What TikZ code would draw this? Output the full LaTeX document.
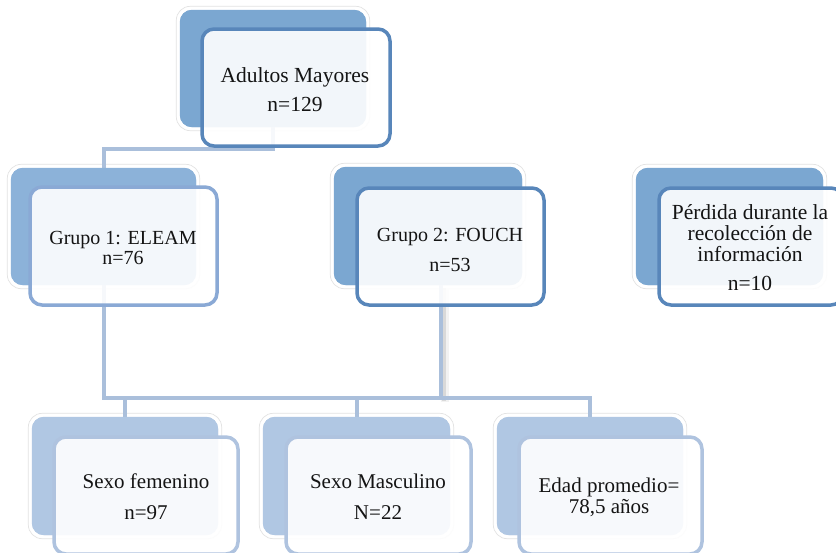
\documentclass[tikz,border=0pt]{standalone}
\usepackage{fontspec}
\setmainfont{Liberation Serif}
\usetikzlibrary{calc}
\definecolor{topBack}{HTML}{7BA7D1}
\definecolor{topBorder}{HTML}{5886BA}
\definecolor{gOneBack}{HTML}{8CB2D9}
\definecolor{gOneBorder}{HTML}{8AA9D5}
\definecolor{botBack}{HTML}{B0C7E3}
\definecolor{botBorder}{HTML}{AFC3DF}
\definecolor{connCol}{HTML}{AABFDB}
\definecolor{txtCol}{HTML}{141414}
\tikzset{
  backbox/.style={rounded corners=12pt, inner sep=0pt, draw=none},
  frontbox/.style={rounded corners=12pt, inner sep=0pt, line width=3.5pt, fill=white, fill opacity=0.9},
  glowline/.style={draw=black!11, line width=0.7pt, rounded corners=14pt},
  conn/.style={draw=connCol, line width=4pt, line join=miter},
  connshadow/.style={draw=black, line width=4pt, opacity=0.10},
  label/.style={align=center, text=txtCol, inner sep=0pt}
}
\begin{document}
\begin{tikzpicture}[x=1pt,y=-1pt]
\useasboundingbox (0,0) rectangle (836,552);
\clip (0,0) rectangle (836,552);
\fill[white] (0,0) rectangle (836,552);

% back boxes
\path
  (273,68.5)    node[backbox, fill=topBack,  minimum width=186, minimum height=117] (tb)  {}
  (103.5,226.5) node[backbox, fill=gOneBack, minimum width=185, minimum height=117] (g1b) {}
  (428,226)     node[backbox, fill=topBack,  minimum width=188, minimum height=118] (g2b) {}
  (729.5,226.5) node[backbox, fill=topBack,  minimum width=187, minimum height=117] (pb)  {}
  (125,476)     node[backbox, fill=botBack,  minimum width=186, minimum height=118] (b1b) {}
  (356.5,476)   node[backbox, fill=botBack,  minimum width=187, minimum height=118] (b2b) {}
  (590,476)     node[backbox, fill=botBack,  minimum width=186, minimum height=118] (b3b) {};

% glow outlines around back boxes
\foreach \n in {tb,g1b,g2b,pb,b1b,b2b,b3b}{
  \draw[glowline] ([shift={(-3.5,-3.5)}]\n.north west) rectangle ([shift={(3.5,3.5)}]\n.south east);
}

% connectors
\coordinate (hL) at (103.5,398);
\coordinate (g2o) at (441,285);
\draw[conn] (tb.south) -- ++(0,22) -| (g1b.north);
\draw[connshadow] ([shift={(3,3)}]g2o) -- ([shift={(3,3)}]g2o |- hL);
\draw[connshadow, line width=8pt, opacity=0.05] ([shift={(4,4)}]g2o) -- ([shift={(4,4)}]g2o |- hL);
\draw[conn] (g1b.south) -- (g1b.south |- hL) -- (b3b.north |- hL) -- (b3b.north);
\draw[conn] (b1b.north |- hL) -- (b1b.north);
\draw[conn] (b2b.north |- hL) -- (b2b.north);
\draw[conn] (g2o) -- (g2o |- hL);

% redraw back boxes over connector ends
\foreach \n/\c in {tb/topBack,g1b/gOneBack,g2b/topBack,pb/topBack,b1b/botBack,b2b/botBack,b3b/botBack}{
  \fill[\c, rounded corners=12pt] (\n.north west) rectangle (\n.south east);
}

% front boxes
\node[frontbox, draw=topBorder,  minimum width=188, minimum height=117] (tf)  at (296,87.5) {};
\node[frontbox, draw=gOneBorder, minimum width=187, minimum height=118] (g1f) at (123.5,246) {};
\node[frontbox, draw=topBorder,  minimum width=187, minimum height=117] (g2f) at (450.5,246.5) {};
\node[frontbox, draw=topBorder,  minimum width=184, minimum height=117] (pf)  at (751,246.5) {};
\node[frontbox, draw=botBorder,  minimum width=184, minimum height=117] (b1f) at (146,495.5) {};
\node[frontbox, draw=botBorder,  minimum width=185, minimum height=117] (b2f) at (378.5,495.5) {};
\node[frontbox, draw=botBorder,  minimum width=183, minimum height=117] (b3f) at (610.5,495.5) {};

% texts
\node[label, font=\fontsize{21.5}{29}\selectfont] (tt)  at (295,89.5)  {Adultos Mayores\\n=129};
\node[label, font=\fontsize{20}{20}\selectfont]   (g1t) at (123,248)   {Grupo 1: ELEAM\\n=76};
\node[label, font=\fontsize{20}{30}\selectfont]   (g2t) at (450,250)   {Grupo 2: FOUCH\\n=53};
\node[label, font=\fontsize{21.5}{21}\selectfont] (pt)  at (750,247.5) {Pérdida durante la\\recolección de\\información\\[8pt]n=10};
\node[label, font=\fontsize{21}{31}\selectfont]   (b1t) at (146,496.5) {Sexo femenino\\n=97};
\node[label, font=\fontsize{21}{31}\selectfont]   (b2t) at (378,496.5) {Sexo Masculino\\N=22};
\node[label, font=\fontsize{21}{21}\selectfont]   (b3t) at (609,497)   {Edad promedio=\\78,5 años};
\end{tikzpicture}
\end{document}
